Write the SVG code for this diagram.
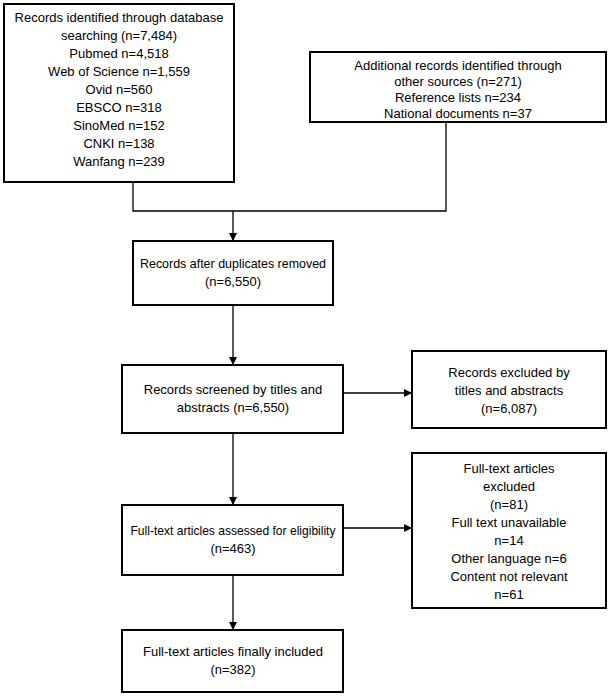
<svg xmlns="http://www.w3.org/2000/svg" width="612" height="696" viewBox="0 0 612 696">
<style>
.b{fill:#fff;stroke:#000;stroke-width:2}
text{font-family:"Liberation Sans",Arial,sans-serif;font-size:13px;fill:#000;text-anchor:middle}
.c{fill:none;stroke:#000;stroke-width:1.3}
</style>
<defs><marker id="a" markerWidth="8" markerHeight="8" refX="7" refY="4" orient="auto" markerUnits="userSpaceOnUse"><path d="M0,0 L8,4 L0,8 z" fill="#000"/></marker></defs>
<g id="connectors">
<path class="c" d="M133,182 V211 H446 V122"/>
<path class="c" d="M233,211 V240" marker-end="url(#a)"/>
<path class="c" d="M233,305 V364" marker-end="url(#a)"/>
<path class="c" d="M343,393 H411" marker-end="url(#a)"/>
<path class="c" d="M233,433 V504" marker-end="url(#a)"/>
<path class="c" d="M343,528 H411" marker-end="url(#a)"/>
<path class="c" d="M233,575 V629" marker-end="url(#a)"/>
</g>
<g id="n1"><rect class="b" x="4" y="4" width="230" height="178"/>
<text x="119" y="22">Records identified through database</text>
<text x="119" y="40">searching (n=7,484)</text>
<text x="119" y="58">Pubmed n=4,518</text>
<text x="119" y="76">Web of Science n=1,559</text>
<text x="119" y="94">Ovid n=560</text>
<text x="119" y="112">EBSCO n=318</text>
<text x="119" y="130">SinoMed n=152</text>
<text x="119" y="148">CNKI n=138</text>
<text x="119" y="166">Wanfang n=239</text></g>
<g id="n2"><rect class="b" x="310" y="52" width="296" height="70"/>
<text x="458" y="70">Additional records identified through</text>
<text x="458" y="86">other sources (n=271)</text>
<text x="458" y="102">Reference lists n=234</text>
<text x="458" y="118">National documents n=37</text></g>
<g id="n3"><rect class="b" x="133" y="241" width="200" height="64"/>
<text x="233" y="268" textLength="186" lengthAdjust="spacingAndGlyphs">Records after duplicates removed</text>
<text x="233" y="286">(n=6,550)</text></g>
<g id="n4"><rect class="b" x="122" y="365" width="221" height="68"/>
<text x="233" y="394">Records screened by titles and</text>
<text x="233" y="412">abstracts (n=6,550)</text></g>
<g id="n5"><rect class="b" x="412" y="351" width="194" height="77"/>
<text x="509" y="377">Records excluded by</text>
<text x="509" y="395">titles and abstracts</text>
<text x="509" y="413">(n=6,087)</text></g>
<g id="n6"><rect class="b" x="122" y="505" width="221" height="70"/>
<text x="233" y="535" textLength="205" lengthAdjust="spacingAndGlyphs">Full-text articles assessed for eligibility</text>
<text x="233" y="553">(n=463)</text></g>
<g id="n7"><rect class="b" x="412" y="453" width="194" height="155"/>
<text x="509" y="473">Full-text articles</text>
<text x="509" y="491">excluded</text>
<text x="509" y="509">(n=81)</text>
<text x="509" y="527">Full text unavailable</text>
<text x="509" y="545">n=14</text>
<text x="509" y="563">Other language n=6</text>
<text x="509" y="581">Content not relevant</text>
<text x="509" y="599">n=61</text></g>
<g id="n8"><rect class="b" x="122" y="630" width="221" height="62"/>
<text x="233" y="656">Full-text articles finally included</text>
<text x="233" y="674">(n=382)</text></g>
</svg>
